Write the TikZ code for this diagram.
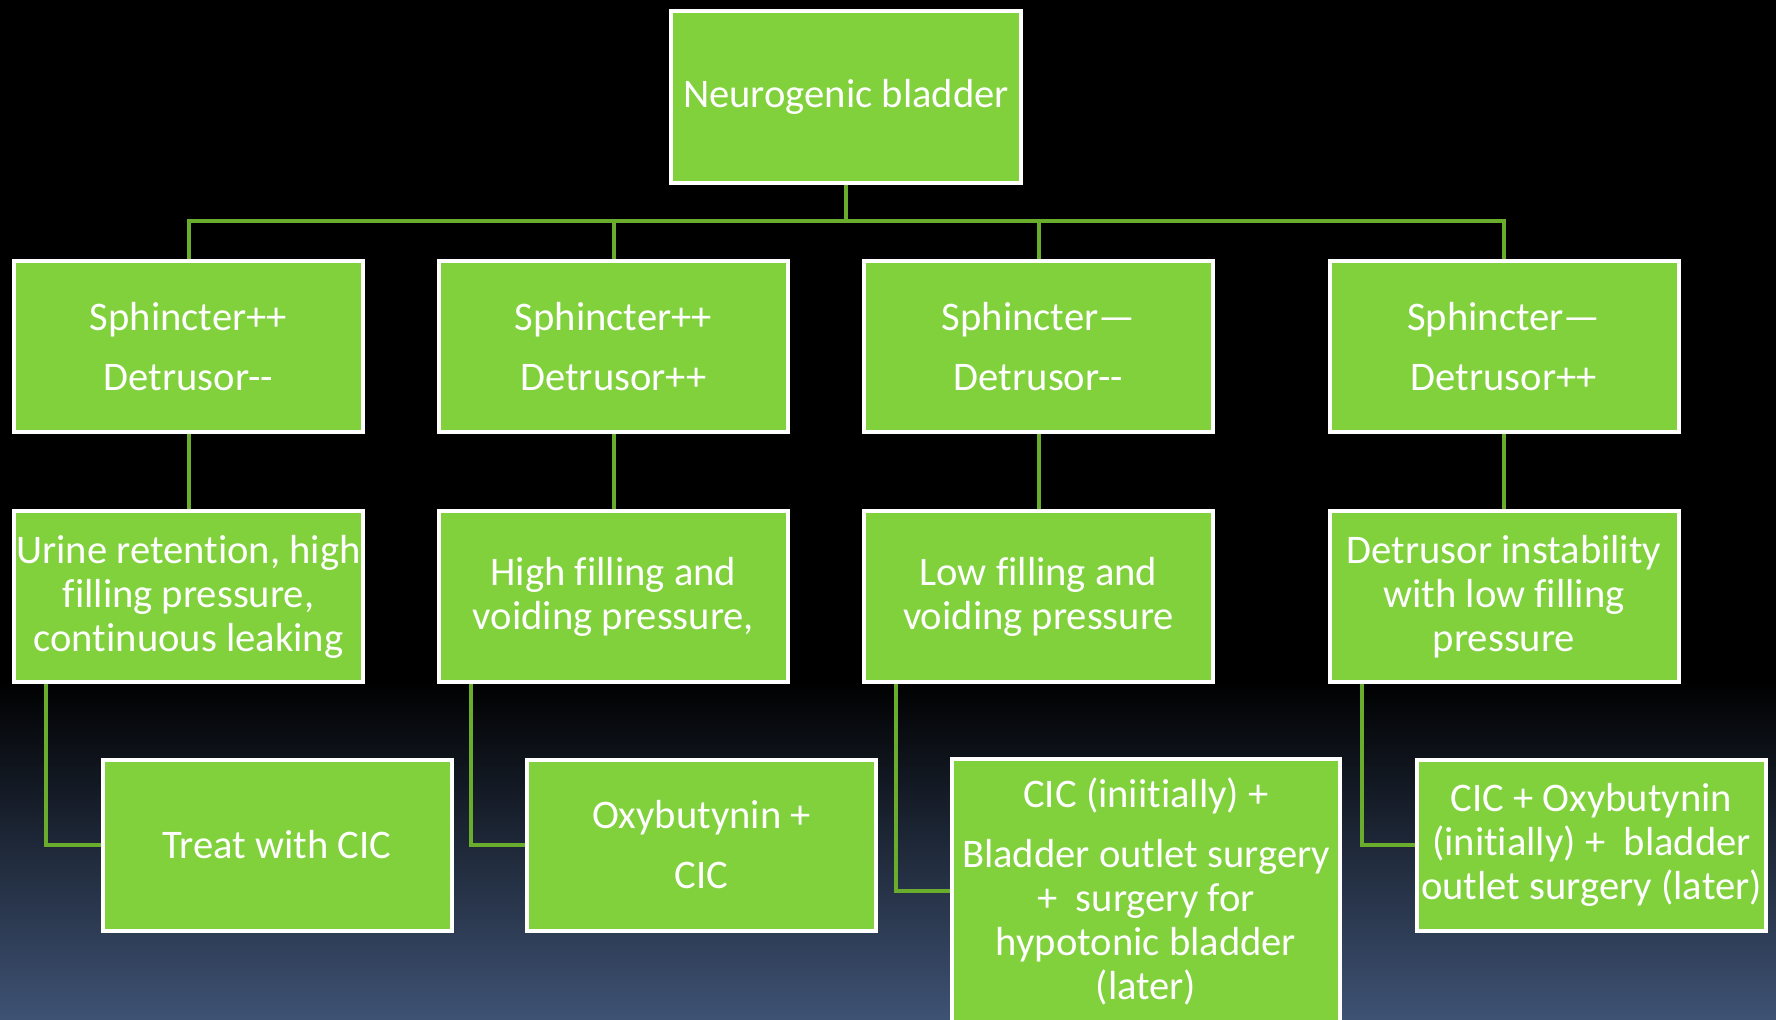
\documentclass[tikz,border=0pt]{standalone}
\usepackage{fontspec}
\setmainfont[Ligatures={TeX,NoCommon}]{Carlito}
\definecolor{boxgreen}{RGB}{128,209,60}
\definecolor{linkgreen}{RGB}{106,172,44}
\definecolor{bgblue}{RGB}{62,82,115}
\begin{document}
\begin{tikzpicture}[x=0.5pt,y=-0.5pt,
  box/.style={draw=white, line width=2pt, fill=boxgreen, text=white,
    minimum width=174.5pt, minimum height=85.5pt, align=center,
    font=\fontsize{20.3}{22}\selectfont, inner sep=0pt},
  link/.style={draw=linkgreen, line width=2pt}]
\useasboundingbox (0,0) rectangle (1776,1019);
\clip (0,0) rectangle (1776,1019);
% backdrop: black fading into slate blue at the foot
\fill[black] (0,0) rectangle (1776,682);
\shade[top color=black, bottom color=bgblue] (0,680) rectangle (1776,1019);

% root
\node[box, minimum width=175pt, minimum height=86pt] (root) at (846,97) {Neurogenic bladder};

% sphincter / detrusor combinations
\node[box] (s1) at (188.5,346.5) {Sphincter++\\[8pt]Detrusor-{}-};
\node[box] (s2) at (613.5,346.5) {Sphincter++\\[8pt]Detrusor++};
\node[box] (s3) at (1038.5,346.5) {Sphincter—\\[8pt]Detrusor-{}-};
\node[box] (s4) at (1504,346.5) {Sphincter—\\[8pt]Detrusor++};

% consequences
\node[box] (c1) at (188.5,596.5) {Urine retention, high\\filling pressure,\\continuous leaking};
\node[box] (c2) at (613.5,596.5) {High filling and\\voiding pressure,};
\node[box] (c3) at (1038.5,596.5) {Low filling and\\voiding pressure};
\node[box] (c4) at (1504,596.5) {Detrusor instability\\with low filling\\pressure};

% treatment
\node[box] (t1) at (277,845) {Treat with CIC};
\node[box] (t2) at (701.5,845) {Oxybutynin +\\[8pt]CIC};
\node[box, minimum width=194pt, minimum height=132pt] (t3) at (1146,891)
  {CIC (iniitially) +\\[8pt]Bladder outlet surgery\\+ \ surgery for\\hypotonic bladder\\(later)};
\node[box] (t4) at (1591.5,845) {CIC + Oxybutynin\\(initially) + \ bladder\\outlet surgery (later)};

% tree connectors
\coordinate (bus) at (846,221);
\draw[link] (root.south) -- (bus);
\foreach \n in {s1,s2,s3,s4}{
  \draw[link] (\n.north) |- (bus);
}
\foreach \a/\b in {s1/c1,s2/c2,s3/c3,s4/c4}{
  \draw[link] (\a.south) -- (\b.north);
}
\foreach \a/\b in {c1/t1,c2/t2,c3/t3,c4/t4}{
  \draw[link] ([xshift=17pt]\a.south west) |- (\b.west);
}
\end{tikzpicture}
\end{document}
